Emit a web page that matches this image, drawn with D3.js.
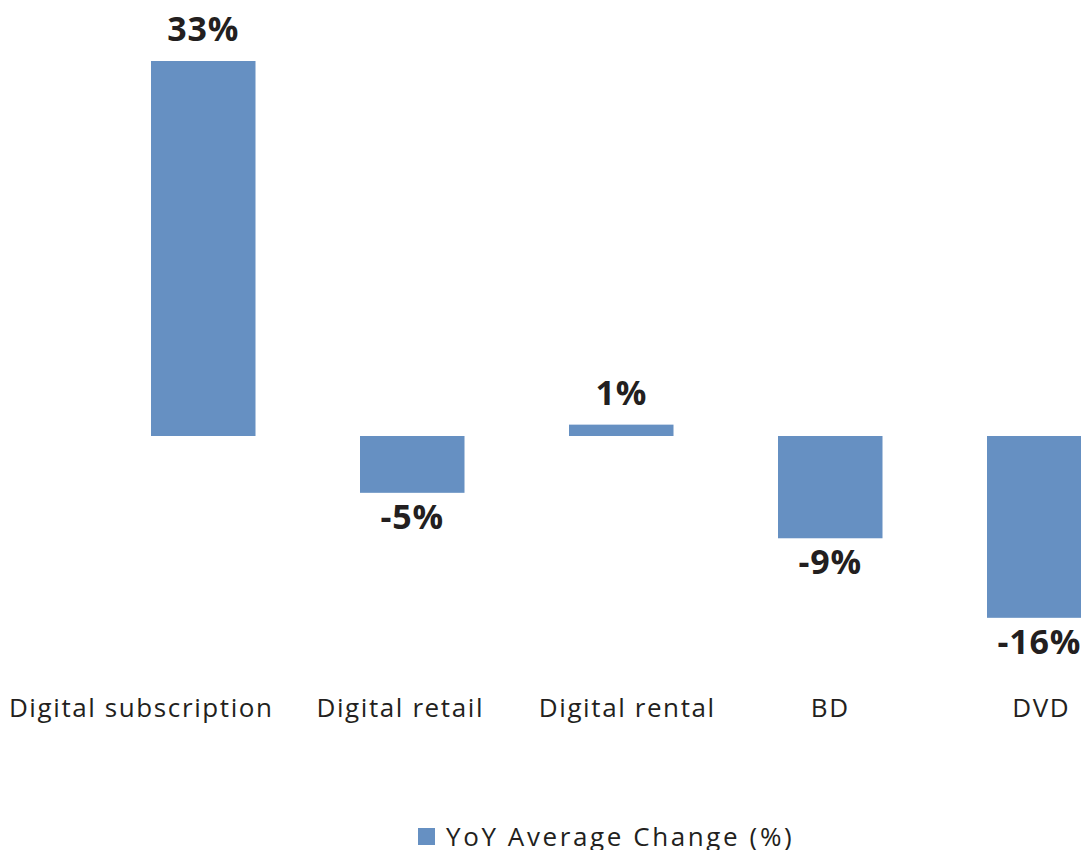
<!DOCTYPE html>
<html>
<head>
<meta charset="utf-8">
<script src="https://cdn.jsdelivr.net/npm/d3@7"></script>
<style>
  html, body { margin: 0; padding: 0; background: #fff; }
  svg { display: block; }
</style>
</head>
<body>
<svg id="chart" width="1081" height="850"></svg>
<script>
const categories = ['Digital subscription', 'Digital retail', 'Digital rental', 'BD', 'DVD'];
const values = [33, -5, 1, -9, -16];
const seriesName = 'YoY Average Change (%)';

const barColor = '#6690c2';
const textColor = '#231f20';
const font = '"Open Sans", sans-serif';

// category labels in the original are not quite centred under their bars
const labelNudge = [-62, -12, 6, 0, 2];

const svg = d3.select('#chart');

const x = d3.scaleBand()
  .domain(categories)
  .range([98.75, 1143.75])
  .paddingInner(0.5)
  .paddingOuter(0.25);

const y = d3.scaleLinear()
  .domain([-20, 35])
  .range([436 + 20 * 375 / 33, 436 - 35 * 375 / 33]);

const data = categories.map((c, i) => ({ cat: c, value: values[i], i }));

// bars
svg.selectAll('rect.bar')
  .data(data)
  .enter()
  .append('rect')
  .attr('class', 'bar')
  .attr('x', d => x(d.cat))
  .attr('width', x.bandwidth())
  .attr('y', d => y(Math.max(0, d.value)))
  .attr('height', d => Math.abs(y(d.value) - y(0)))
  .attr('fill', barColor);

// value labels
svg.selectAll('text.value')
  .data(data)
  .enter()
  .append('text')
  .attr('class', 'value')
  .attr('x', d => x(d.cat) + x.bandwidth() / 2)
  .attr('y', d => d.value >= 0 ? y(d.value) - 20 : y(d.value) + 36)
  .attr('text-anchor', 'middle')
  .attr('font-family', font)
  .attr('font-weight', 700)
  .attr('font-size', 34)
  .attr('letter-spacing', 0.8)
  .attr('fill', textColor)
  .text(d => `${d.value}%`);

// category labels
svg.selectAll('text.cat')
  .data(data)
  .enter()
  .append('text')
  .attr('class', 'cat')
  .attr('x', d => x(d.cat) + x.bandwidth() / 2 + labelNudge[d.i])
  .attr('y', 717)
  .attr('text-anchor', 'middle')
  .attr('font-family', font)
  .attr('font-size', 26)
  .attr('letter-spacing', 1.6)
  .attr('fill', textColor)
  .text(d => d.cat);

// legend
const legend = svg.append('g').attr('transform', 'translate(418,828)');
legend.append('rect')
  .attr('width', 17)
  .attr('height', 17)
  .attr('fill', barColor);
legend.append('text')
  .attr('x', 28)
  .attr('y', 18)
  .attr('font-family', font)
  .attr('font-size', 26)
  .attr('letter-spacing', 2.6)
  .attr('fill', textColor)
  .text(seriesName);
</script>
</body>
</html>
